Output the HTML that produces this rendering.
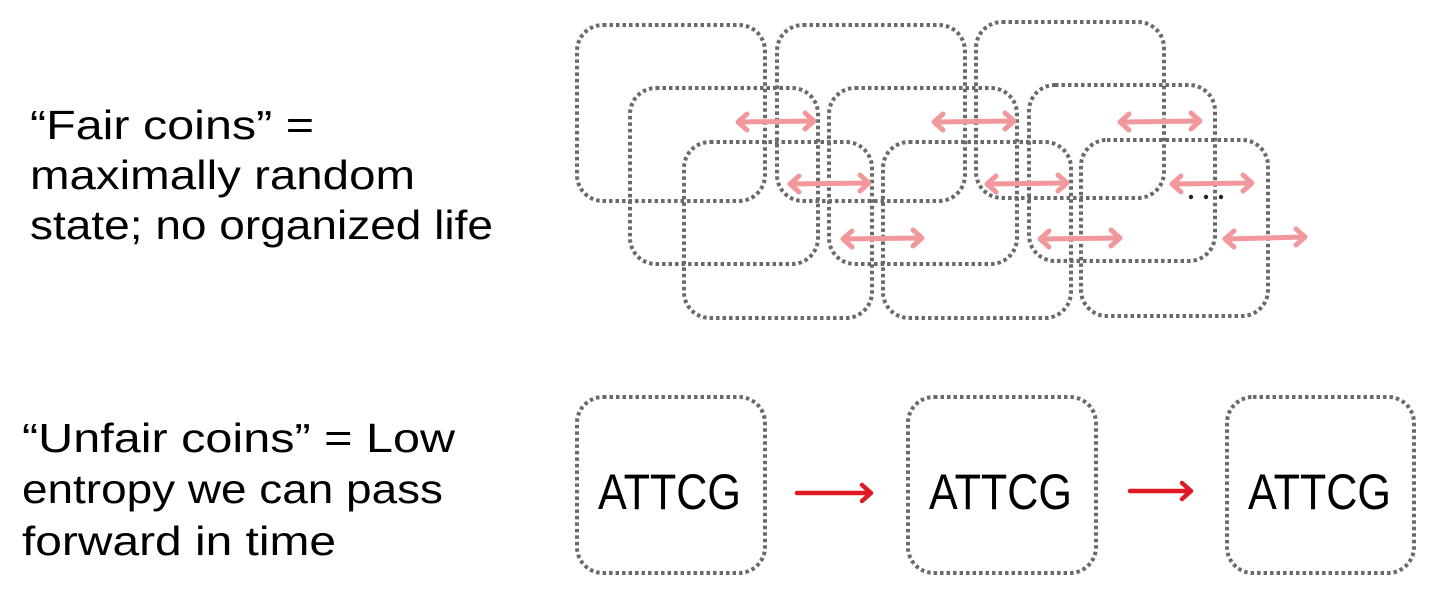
<!DOCTYPE html>
<html><head><meta charset="utf-8"><style>
html,body{margin:0;padding:0;background:#fff;}
svg{display:block;}
text{font-family:"Liberation Sans",sans-serif;fill:#000;}
</style></head><body>
<svg width="1456" height="614" viewBox="0 0 1456 614" xmlns="http://www.w3.org/2000/svg">
<g fill="none" stroke="#6a6a6a" stroke-width="4" stroke-dasharray="3.5 3">
<rect x="577" y="25" width="188" height="176" rx="26"/>
<rect x="777" y="25" width="188" height="176" rx="26"/>
<rect x="976" y="22" width="188" height="176" rx="26"/>
<rect x="630" y="88" width="188" height="176" rx="26"/>
<rect x="829" y="88" width="188" height="176" rx="26"/>
<rect x="1029" y="85" width="186" height="176" rx="26"/>
<rect x="684" y="142" width="188" height="176" rx="26"/>
<rect x="883" y="142" width="188" height="176" rx="26"/>
<rect x="1081" y="140" width="187" height="176" rx="26"/>
<rect x="577" y="397" width="188" height="176" rx="26"/>
<rect x="908" y="397" width="188" height="176" rx="26"/>
<rect x="1227" y="397" width="187" height="176" rx="26"/>
</g>
<g fill="none" stroke="#f2979b" stroke-width="5" stroke-linecap="round" stroke-linejoin="round">
<path d="M739 122 L813 121 M747 114 L738 122 L747 130 M805 113 L814 121 L805 129"/>
<path d="M935 122 L1013 121 M943 114 L934 122 L943 130 M1005 113 L1014 121 L1005 129"/>
<path d="M1121 122 L1199 121 M1129 114 L1120 122 L1129 130 M1191 113 L1200 121 L1191 129"/>
<path d="M791 184 L868 183 M799 176 L790 184 L799 192 M860 175 L869 183 L860 191"/>
<path d="M988 184 L1066 183 M996 176 L987 184 L996 192 M1058 175 L1067 183 L1058 191"/>
<path d="M1173 184 L1251 183 M1181 176 L1172 184 L1181 192 M1243 175 L1252 183 L1243 191"/>
<path d="M844 239 L921 238 M852 231 L843 239 L852 247 M913 230 L922 238 L913 246"/>
<path d="M1041 239 L1119 238 M1049 231 L1040 239 L1049 247 M1111 230 L1120 238 L1111 246"/>
<path d="M1226 239 L1304 237 M1234 231 L1225 239 L1234 247 M1296 229 L1305 237 L1296 245"/>
</g>
<g fill="#222"><circle cx="1191" cy="197" r="2.2"/><circle cx="1206" cy="197" r="2.2"/><circle cx="1221" cy="197" r="2.2"/></g>
<g fill="none" stroke="#e01a25" stroke-width="4.5" stroke-linecap="round" stroke-linejoin="round">
<path d="M797 493 L870 493 M862 485 L871 493 L862 501"/>
<path d="M1130 491 L1190 491 M1182 483 L1191 491 L1182 499"/>
</g>
<g font-size="50">
<text x="598" y="509" textLength="143" lengthAdjust="spacingAndGlyphs">ATTCG</text>
<text x="929" y="509" textLength="143" lengthAdjust="spacingAndGlyphs">ATTCG</text>
<text x="1248" y="509" textLength="143" lengthAdjust="spacingAndGlyphs">ATTCG</text>
</g>
<g font-size="41">
<text x="30" y="139" textLength="284" lengthAdjust="spacingAndGlyphs">“Fair coins” =</text>
<text x="30" y="189" textLength="385" lengthAdjust="spacingAndGlyphs">maximally random</text>
<text x="30" y="239" textLength="463" lengthAdjust="spacingAndGlyphs">state; no organized life</text>
<text x="22" y="452" textLength="433" lengthAdjust="spacingAndGlyphs">“Unfair coins” = Low</text>
<text x="22" y="503" textLength="421" lengthAdjust="spacingAndGlyphs">entropy we can pass</text>
<text x="22" y="555" textLength="314" lengthAdjust="spacingAndGlyphs">forward in time</text>
</g>
</svg>
</body></html>
